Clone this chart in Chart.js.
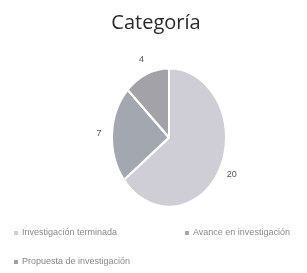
<!DOCTYPE html>
<html>
<head>
<meta charset="utf-8">
<script src="https://cdn.jsdelivr.net/npm/chart.js@4/dist/chart.umd.min.js"></script>
<style>
  html, body { margin: 0; padding: 0; background: #ffffff; }
  #wrap { width: 307px; height: 273px; position: relative; }
</style>
</head>
<body>
<div id="wrap"><canvas id="c" width="307" height="273"></canvas></div>
<script>
const chartTitle = "Categoría";
const categories = ["Investigación terminada", "Avance en investigación", "Propuesta de investigación"];
const values = [20, 7, 4];
const sliceColors = ["#cfcdd6", "#a3a8b0", "#a4a2a9"];

const CX = 169, CY = 137.5, YSCALE = 1.215;

const ellipsePlugin = {
  id: 'ellipse',
  beforeDatasetsDraw(chart) {
    const ctx = chart.ctx;
    ctx.save();
    ctx.translate(CX, CY);
    ctx.scale(1, YSCALE);
    ctx.translate(-CX, -CY);
  },
  afterDatasetsDraw(chart) {
    chart.ctx.restore();
  }
};

const decorPlugin = {
  id: 'decor',
  afterDraw(chart) {
    const ctx = chart.ctx;
    ctx.save();
    // title
    ctx.fillStyle = "#2a2a2a";
    ctx.font = "20px 'Open Sans', sans-serif";
    ctx.textAlign = "center";
    ctx.textBaseline = "middle";
    ctx.fillText(chartTitle, 156, 23);
    // data labels
    const meta = chart.getDatasetMeta(0);
    ctx.font = "9px 'Liberation Sans', sans-serif";
    ctx.fillStyle = "#555";
    meta.data.forEach((arc, i) => {
      const a = (arc.startAngle + arc.endAngle) / 2;
      const r = arc.outerRadius + 13;
      const x = arc.x + Math.cos(a) * r;
      const y = arc.y + Math.sin(a) * r * YSCALE;
      ctx.fillText(String(values[i]), x, y);
    });
    // legend
    const pos = [[14, 233], [185, 233], [14, 262]];
    ctx.textAlign = "left";
    ctx.font = "9px 'Liberation Sans', sans-serif";
    categories.forEach((c, i) => {
      ctx.fillStyle = sliceColors[i];
      ctx.fillRect(pos[i][0], pos[i][1] - 2, 4, 4);
      ctx.fillStyle = "#8a8a8a";
      ctx.fillText(c, pos[i][0] + 8, pos[i][1]);
    });
    ctx.restore();
  }
};

new Chart(document.getElementById('c'), {
  type: 'pie',
  data: {
    labels: categories,
    datasets: [{
      data: values,
      backgroundColor: sliceColors,
      borderColor: "#ffffff",
      borderWidth: 2
    }]
  },
  options: {
    responsive: false,
    animation: false,
    layout: { padding: { left: 111, right: 80, top: 79.5, bottom: 77.5 } },
    plugins: {
      legend: { display: false },
      title: { display: false },
      tooltip: { enabled: false }
    }
  },
  plugins: [ellipsePlugin, decorPlugin]
});
</script>
</body>
</html>
